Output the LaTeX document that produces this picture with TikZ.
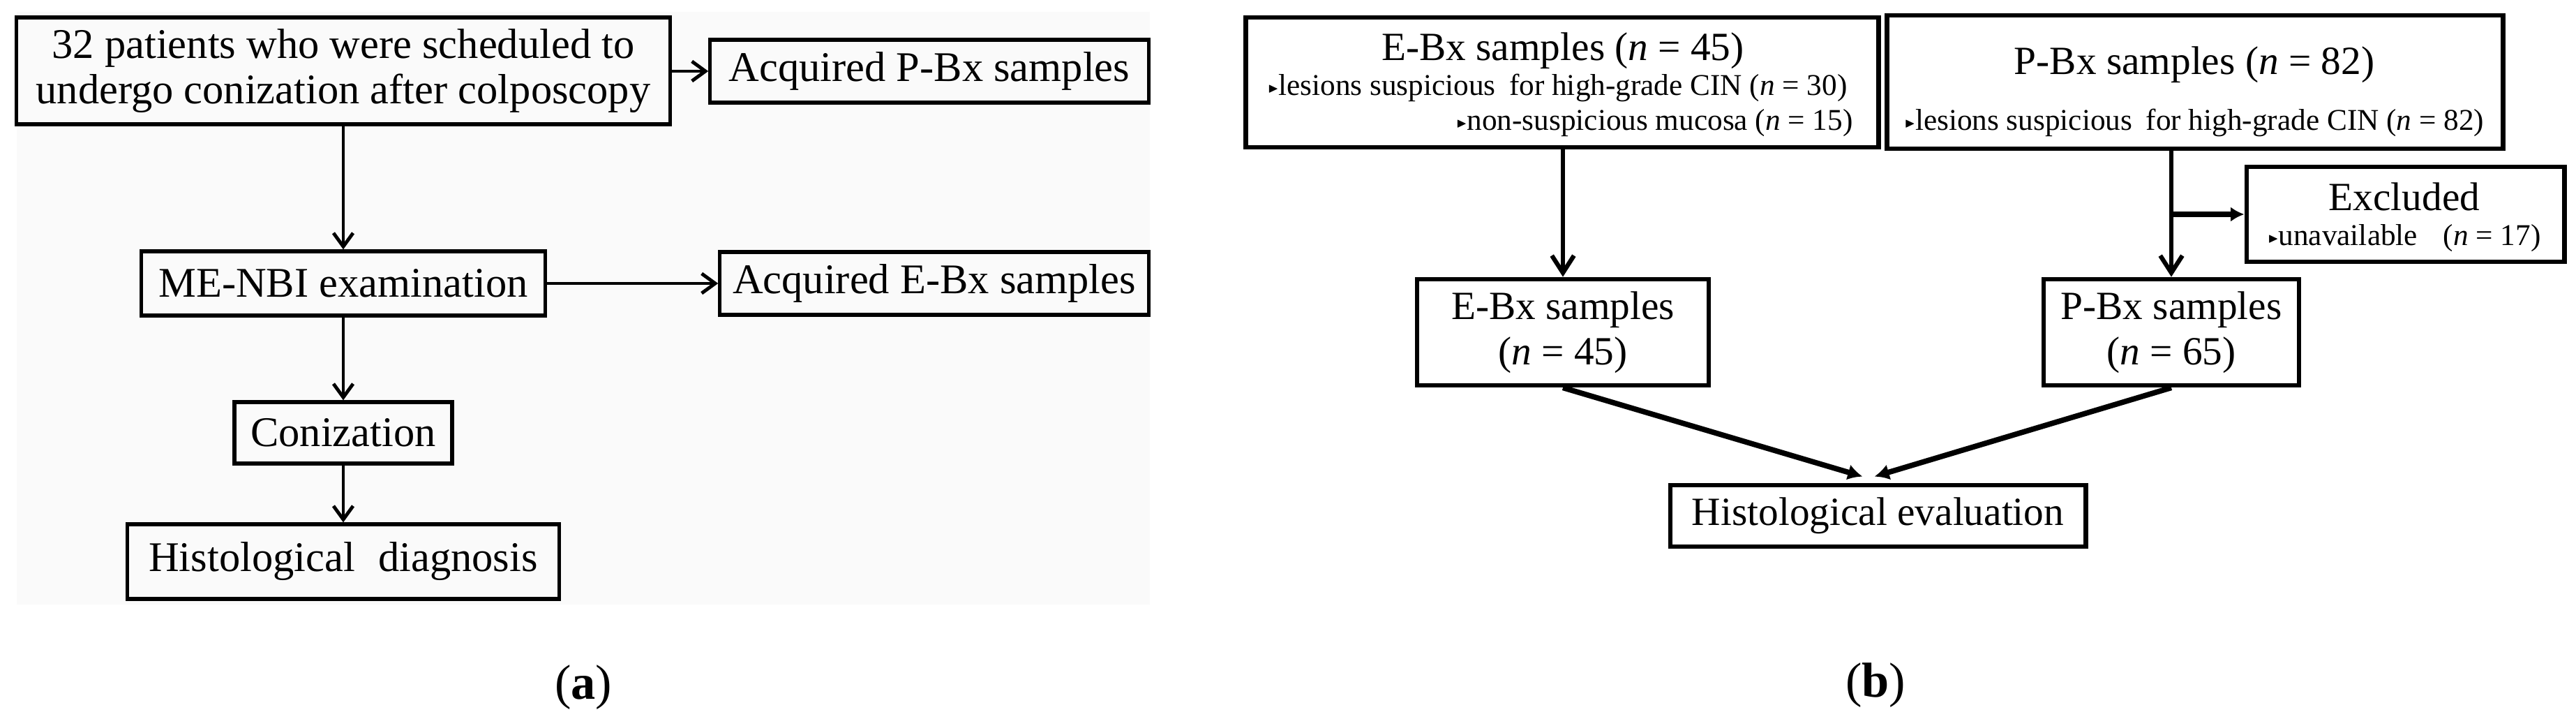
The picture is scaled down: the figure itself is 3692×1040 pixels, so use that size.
\documentclass[tikz,border=0pt]{standalone}
\usepackage{amssymb}
\usepackage{fontspec}
\setmainfont{Liberation Serif}
\usetikzlibrary{arrows.meta,calc}
\definecolor{bgl}{HTML}{FAFAFA}
\newcommand\fA{\fontsize{17.2pt}{18.5pt}\selectfont}
\newcommand\fB{\fontsize{16.3pt}{18.5pt}\selectfont}
\newcommand\fC{\fontsize{12.3pt}{14pt}\selectfont}
\newcommand\fE{\fontsize{20pt}{22pt}\selectfont}
\newcommand\mytri{\raisebox{0.25ex}{\scalebox{0.45}{$\blacktriangleright$}}}
\tikzset{
  lbox/.style={draw=black, line width=1.5pt, inner sep=0pt, align=center, font=\fA},
  rbox/.style={draw=black, line width=1.9pt, inner sep=0pt, align=center},
  arrL/.style={line width=1.4pt, -{Straight Barb[length=5.5pt,width=8pt]}},
  arrR/.style={line width=1.8pt, -{Straight Barb[length=7pt,width=9pt]}},
  arrF/.style={line width=2.2pt, -{Latex[length=5.5pt,width=6pt]}},
  arrD/.style={line width=2.2pt, -{Latex[length=6pt,width=6.5pt]}}
}
\begin{document}
\begin{tikzpicture}[x=0.01cm,y=-0.01cm]
\useasboundingbox (0,0) rectangle (3692,1040);
\fill[white] (0,0) rectangle (3692,1040);
\fill[bgl] (24,17) rectangle (1648,866);

% left panel
\node[lbox, minimum width=9.36cm, minimum height=1.53cm] (B1) at (492,101.5) {32 patients who were scheduled to\\undergo conization after colposcopy};
\node[lbox, minimum width=6.28cm, minimum height=0.90cm] (PBxL) at (1332,102) {Acquired P-Bx samples};
\node[lbox, minimum width=5.78cm, minimum height=0.92cm] (MENBI) at (492,406) {ME-NBI examination};
\node[lbox, minimum width=6.14cm, minimum height=0.90cm] (EBxL) at (1339,406) {Acquired E-Bx samples};
\node[lbox, minimum width=3.12cm, minimum height=0.88cm] (Con) at (492,620) {Conization};
\node[lbox, minimum width=6.18cm, minimum height=1.07cm] (HD) at (492,804.5) {Histological\hspace{0.3em} diagnosis};
\node[font=\fE] (la) at (836,985) {(\textbf{a})};

\draw[arrL] (B1.east |- PBxL.west) -- (PBxL.west);
\draw[arrL] (B1.south) -- (MENBI.north);
\draw[arrL] (MENBI.east) -- (EBxL.west);
\draw[arrL] (MENBI.south) -- (Con.north);
\draw[arrL] (Con.south) -- (HD.north);

% right panel
\node[rbox, minimum width=9.06cm, minimum height=1.86cm] (EBxT) at (2239,118) {};
\node[anchor=base, font=\fB] (EBxT1) at (2240,87) {E-Bx samples (\textit{n} = 45)};
\node[anchor=base east, font=\fC] (EBxT2) at (2660,137) {\mytri lesions suspicious\hspace{0.2em} for high-grade CIN (\textit{n} = 30)};
\node[anchor=base east, font=\fC] (EBxT3) at (2668,187) {\mytri non-suspicious mucosa (\textit{n} = 15)};

\node[rbox, minimum width=8.82cm, minimum height=1.91cm] (PBxT) at (3146,117.5) {};
\node[anchor=base, font=\fB] (PBxT1) at (3145,107) {P-Bx samples (\textit{n} = 82)};
\node[anchor=base, font=\fC] (PBxT2) at (3145,187) {\mytri lesions suspicious\hspace{0.2em} for high-grade CIN (\textit{n} = 82)};

\node[rbox, minimum width=4.55cm, minimum height=1.36cm] (Excl) at (3447.5,307) {};
\node[anchor=base, font=\fB] (Excl1) at (3446,302) {Excluded};
\node[anchor=base, font=\fC] (Excl2) at (3446,352) {\mytri unavailable\hspace{0.6em} (\textit{n} = 17)};

\node[rbox, font=\fB, minimum width=4.18cm, minimum height=1.52cm] (EBxB) at (2240,476) {E-Bx samples\\(\textit{n} = 45)};
\node[rbox, font=\fB, minimum width=3.66cm, minimum height=1.52cm] (PBxB) at (3112,476) {P-Bx samples\\(\textit{n} = 65)};
\node[rbox, font=\fB, minimum width=5.95cm, minimum height=0.88cm] (HE) at (2691.5,739) {Histological evaluation};
\node[font=\fE] (lb) at (2688,982) {(\textbf{b})};

\draw[arrR] (EBxB.north |- EBxT.south) -- (EBxB.north);
\draw[arrR] (PBxB.north |- PBxT.south) -- (PBxB.north);
\coordinate (br) at (PBxB.north |- Excl.west);
\draw[arrF] (br) -- (Excl.west);
\draw[arrD] (EBxB.south) -- ($(HE.north)+(-22,-9)$);
\draw[arrD] (PBxB.south) -- ($(HE.north)+(-5,-9)$);
\end{tikzpicture}
\end{document}
